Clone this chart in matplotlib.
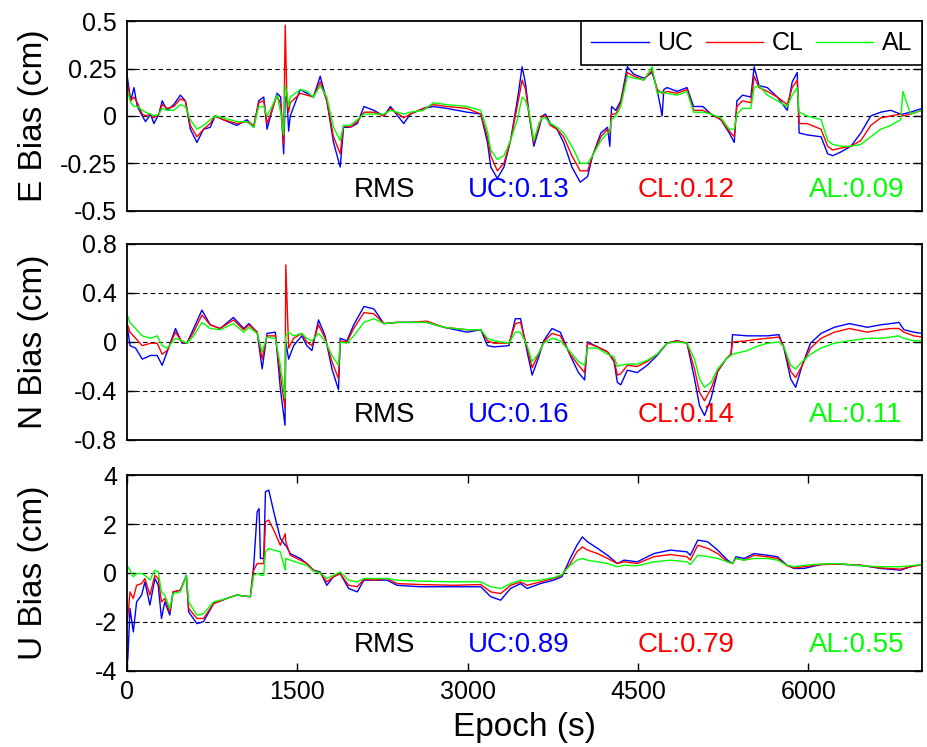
import matplotlib
matplotlib.use('Agg')
import matplotlib.pyplot as plt
from matplotlib.transforms import blended_transform_factory

plt.rcParams['font.family'] = ['Liberation Sans', 'DejaVu Sans']

# ---- E component ----
epoch_e = [0, 35, 64, 93, 137, 166, 210, 239, 283, 312, 356, 414, 472, 516, 560, 618, 676, 735, 778, 851,
           968, 1058, 1118, 1162, 1206, 1235, 1279, 1323, 1355, 1381, 1395, 1410, 1425, 1439, 1527, 1585,
           1643, 1703, 1761, 1820, 1879, 1908, 1967, 2029, 2088, 2175, 2263, 2321, 2438, 2496, 2612, 2700,
           2817, 2996, 3116, 3175, 3204, 3262, 3320, 3378, 3437, 3480, 3510, 3539, 3583, 3627, 3656, 3685,
           3729, 3787, 3845, 3918, 3991, 4056, 4100, 4173, 4231, 4252, 4267, 4304, 4348, 4406, 4464, 4551,
           4624, 4668, 4712, 4727, 4756, 4843, 4931, 4989, 5070, 5143, 5230, 5303, 5347, 5370, 5420, 5493,
           5522, 5565, 5638, 5726, 5813, 5857, 5901, 5918, 5988, 6111, 6169, 6213, 6286, 6373, 6461, 6548,
           6636, 6723, 6811, 6831, 6898, 7000]
e_uc = [0.23, 0.08, 0.15, 0.05, 0.00, -0.03, 0.01, -0.04, 0.01, 0.08, 0.03, 0.06, 0.11, 0.08, -0.07, -0.14,
        -0.07, -0.06, 0.00, -0.02, -0.05, -0.02, -0.06, 0.08, 0.10, -0.07, 0.03, 0.12, 0.10, -0.20, 0.10,
        0.10, -0.08, 0.00, 0.14, 0.12, 0.10, 0.21, 0.08, -0.14, -0.27, -0.06, -0.06, -0.04, 0.05, 0.03,
        0.00, 0.05, -0.04, 0.01, 0.04, 0.05, 0.04, 0.02, 0.01, -0.14, -0.27, -0.33, -0.27, -0.13, 0.08,
        0.26, 0.17, 0.02, -0.16, -0.07, 0.00, 0.01, -0.04, -0.07, -0.14, -0.27, -0.35, -0.32, -0.21, -0.09,
        -0.06, -0.16, 0.05, 0.03, 0.08, 0.26, 0.22, 0.20, 0.23, 0.14, 0.00, 0.14, 0.15, 0.13, 0.15, 0.05,
        0.05, 0.01, -0.02, -0.09, -0.14, 0.08, 0.11, 0.10, 0.26, 0.16, 0.15, 0.10, 0.03, 0.18, 0.23, -0.09,
        -0.10, -0.11, -0.20, -0.21, -0.19, -0.16, -0.09, 0.00, 0.02, 0.03, 0.01, 0.01, 0.02, 0.04]
e_cl = [0.19, 0.08, 0.10, 0.07, 0.01, 0.00, 0.01, -0.01, 0.01, 0.06, 0.04, 0.05, 0.09, 0.08, -0.05, -0.11,
        -0.07, -0.04, 0.00, -0.02, -0.04, -0.03, -0.05, 0.07, 0.08, -0.04, 0.03, 0.11, 0.06, -0.15, 0.48,
        0.08, 0.02, 0.07, 0.12, 0.11, 0.10, 0.18, 0.08, -0.11, -0.20, -0.05, -0.06, -0.03, 0.02, 0.02,
        0.00, 0.04, -0.01, 0.01, 0.04, 0.06, 0.05, 0.04, 0.01, -0.11, -0.21, -0.29, -0.25, -0.13, 0.05,
        0.19, 0.14, 0.01, -0.14, -0.06, 0.00, 0.00, -0.05, -0.07, -0.11, -0.21, -0.29, -0.29, -0.21, -0.11,
        -0.07, -0.09, 0.01, 0.01, 0.07, 0.23, 0.21, 0.19, 0.24, 0.14, 0.12, 0.12, 0.13, 0.12, 0.14, 0.03,
        0.03, 0.01, -0.02, -0.08, -0.11, 0.05, 0.08, 0.07, 0.21, 0.15, 0.13, 0.10, 0.06, 0.15, 0.19, -0.04,
        -0.04, -0.07, -0.16, -0.18, -0.17, -0.16, -0.13, -0.05, -0.01, 0.00, 0.01, 0.00, 0.01, 0.03]
e_al = [0.15, 0.07, 0.05, 0.05, 0.03, 0.02, 0.01, 0.00, 0.01, 0.04, 0.03, 0.03, 0.06, 0.05, -0.02, -0.07,
        -0.05, -0.02, 0.00, -0.01, -0.03, -0.03, -0.06, 0.05, 0.05, 0.00, 0.05, 0.11, 0.02, -0.10, 0.16,
        0.12, 0.05, 0.10, 0.14, 0.13, 0.10, 0.16, 0.10, -0.06, -0.13, -0.05, -0.05, -0.02, 0.01, 0.01,
        0.01, 0.03, 0.01, 0.02, 0.03, 0.07, 0.06, 0.05, 0.03, -0.08, -0.18, -0.23, -0.21, -0.13, -0.02,
        0.10, 0.08, 0.03, -0.13, -0.04, -0.01, -0.01, -0.04, -0.06, -0.09, -0.16, -0.25, -0.25, -0.21, -0.13,
        -0.09, -0.08, -0.02, 0.00, 0.05, 0.21, 0.20, 0.19, 0.26, 0.12, 0.13, 0.12, 0.12, 0.11, 0.13, 0.02,
        0.02, 0.01, -0.01, -0.07, -0.07, 0.01, 0.04, 0.04, 0.15, 0.16, 0.11, 0.08, 0.05, 0.11, 0.15, 0.02,
        0.00, -0.02, -0.13, -0.15, -0.16, -0.16, -0.15, -0.11, -0.07, -0.05, -0.02, 0.13, 0.01, 0.03]

# ---- N component ----
epoch_n = [0, 29, 78, 137, 210, 268, 312, 356, 429, 487, 530, 589, 662, 735, 822, 939, 1030, 1075, 1148,
           1192, 1235, 1308, 1352, 1393, 1400, 1425, 1469, 1541, 1585, 1630, 1688, 1746, 1806, 1864, 1879,
           1938, 1998, 2088, 2175, 2263, 2379, 2496, 2642, 2790, 2996, 3116, 3175, 3233, 3364, 3420, 3466,
           3524, 3568, 3620, 3670, 3743, 3816, 3903, 3976, 4030, 4056, 4144, 4231, 4289, 4318, 4348, 4406,
           4493, 4581, 4668, 4756, 4843, 4931, 4997, 5041, 5085, 5143, 5201, 5274, 5318, 5332, 5463, 5536,
           5638, 5740, 5784, 5843, 5887, 5945, 6018, 6111, 6228, 6359, 6519, 6636, 6723, 6796, 6840, 6927,
           7000]
n_uc = [0.16, -0.03, -0.05, -0.14, -0.11, -0.11, -0.19, -0.08, 0.11, -0.01, -0.01, 0.11, 0.26, 0.14, 0.11,
        0.20, 0.11, 0.15, 0.08, -0.22, 0.07, 0.08, -0.38, -0.68, 0.00, -0.14, -0.03, 0.05, -0.03, -0.07,
        0.18, 0.05, -0.22, -0.39, 0.03, 0.01, 0.14, 0.29, 0.27, 0.15, 0.16, 0.16, 0.16, 0.12, 0.08, 0.10,
        -0.03, -0.04, -0.03, 0.19, 0.19, -0.08, -0.27, -0.14, 0.01, 0.11, 0.08, -0.11, -0.25, -0.31, 0.00,
        -0.04, -0.08, -0.16, -0.33, -0.35, -0.23, -0.25, -0.19, -0.11, -0.01, 0.01, -0.01, -0.30, -0.52,
        -0.60, -0.46, -0.24, -0.14, -0.10, 0.06, 0.05, 0.05, 0.05, 0.06, -0.05, -0.30, -0.37, -0.19, -0.01,
        0.07, 0.12, 0.15, 0.12, 0.14, 0.15, 0.16, 0.10, 0.08, 0.07]
n_cl = [0.16, 0.08, 0.03, -0.03, -0.01, -0.01, -0.10, -0.07, 0.08, 0.00, -0.01, 0.08, 0.22, 0.14, 0.11,
        0.18, 0.10, 0.14, 0.08, -0.14, 0.05, 0.05, -0.27, -0.54, 0.63, -0.05, 0.03, 0.07, 0.00, -0.03,
        0.14, 0.03, -0.16, -0.30, 0.01, 0.00, 0.11, 0.24, 0.23, 0.15, 0.16, 0.16, 0.17, 0.12, 0.10, 0.10,
        0.01, -0.01, -0.01, 0.15, 0.16, -0.05, -0.21, -0.11, 0.00, 0.07, 0.05, -0.10, -0.19, -0.25, -0.01,
        -0.04, -0.08, -0.15, -0.27, -0.26, -0.19, -0.20, -0.16, -0.10, -0.01, 0.01, -0.01, -0.22, -0.41,
        -0.48, -0.38, -0.24, -0.14, -0.10, 0.00, 0.01, 0.02, 0.03, 0.04, -0.04, -0.24, -0.29, -0.19, -0.05,
        0.03, 0.08, 0.11, 0.08, 0.10, 0.11, 0.11, 0.08, 0.05, 0.04]
n_al = [0.23, 0.16, 0.11, 0.05, 0.03, 0.05, -0.03, -0.05, 0.03, 0.01, -0.01, 0.05, 0.16, 0.11, 0.10,
        0.15, 0.08, 0.12, 0.07, -0.08, 0.04, 0.03, -0.19, -0.46, 0.05, 0.08, 0.05, 0.07, 0.03, 0.01,
        0.07, 0.01, -0.11, -0.19, 0.00, -0.01, 0.05, 0.16, 0.19, 0.15, 0.16, 0.16, 0.16, 0.12, 0.10, 0.10,
        0.03, 0.01, -0.01, 0.08, 0.08, -0.03, -0.16, -0.10, -0.01, 0.03, 0.01, -0.08, -0.16, -0.19, -0.05,
        -0.05, -0.10, -0.12, -0.20, -0.19, -0.18, -0.18, -0.15, -0.10, -0.01, 0.00, -0.01, -0.14, -0.30,
        -0.37, -0.33, -0.22, -0.14, -0.11, -0.10, -0.07, -0.04, -0.01, 0.00, -0.04, -0.19, -0.22, -0.16, -0.10,
        -0.05, -0.01, 0.01, 0.03, 0.03, 0.04, 0.05, 0.03, 0.01, 0.01]

# ---- U component ----
epoch_u = [0, 10, 29, 58, 87, 131, 160, 204, 248, 277, 306, 335, 379, 408, 472, 525, 545, 618, 676, 764,
           880, 968, 1088, 1118, 1148, 1165, 1177, 1206, 1221, 1250, 1294, 1352, 1395, 1400, 1439, 1527,
           1585, 1643, 1703, 1761, 1820, 1879, 1953, 2029, 2088, 2175, 2292, 2379, 2584, 2879, 3116, 3204,
           3291, 3378, 3466, 3524, 3641, 3757, 3830, 3903, 3962, 4010, 4056, 4144, 4231, 4318, 4377, 4493,
           4639, 4785, 4931, 4960, 5026, 5114, 5201, 5288, 5332, 5361, 5434, 5522, 5638, 5726, 5813, 5872,
           5960, 6111, 6257, 6461, 6636, 6811, 6898, 7000]
u_uc = [-3.95, -3.50, -1.46, -2.42, -1.19, -0.91, -0.37, -1.32, -0.23, -0.51, -1.87, -1.19, -1.73, -0.78,
        -0.71, -0.10, -1.60, -2.08, -2.00, -1.26, -1.05, -0.91, -0.98, 0.31, 2.50, 2.63, 0.59, 0.59, 3.32,
        3.39, 2.50, 1.41, 1.13, 1.13, 0.79, 0.59, 0.38, 0.11, 0.04, -0.51, -0.16, -0.03, -0.64, -0.78,
        -0.30, -0.30, -0.30, -0.51, -0.57, -0.57, -0.57, -0.98, -1.12, -0.64, -0.44, -0.64, -0.44, -0.30,
        -0.16, 0.59, 1.13, 1.47, 1.27, 1.00, 0.72, 0.38, 0.52, 0.45, 0.79, 0.93, 0.86, 0.72, 1.34, 1.27,
        0.93, 0.52, 0.38, 0.66, 0.59, 0.79, 0.72, 0.66, 0.31, 0.18, 0.18, 0.34, 0.36, 0.31, 0.18, 0.11,
        0.25, 0.34]
u_cl = [-2.00, -1.80, -0.78, -1.05, -0.51, -0.44, -0.23, -0.91, -0.10, -0.23, -1.19, -1.05, -1.60, -0.78,
        -0.71, -0.16, -1.46, -1.87, -1.87, -1.26, -1.05, -0.91, -0.98, 0.11, 0.38, 0.38, 0.38, 0.38, 2.09,
        2.16, 1.75, 1.13, 1.60, 1.27, 0.72, 0.52, 0.38, 0.11, 0.00, -0.37, -0.16, -0.03, -0.51, -0.57,
        -0.26, -0.30, -0.23, -0.44, -0.48, -0.51, -0.48, -0.78, -0.85, -0.51, -0.37, -0.51, -0.37, -0.23,
        -0.10, 0.38, 0.86, 1.06, 0.93, 0.79, 0.59, 0.38, 0.45, 0.38, 0.66, 0.75, 0.66, 0.52, 1.13, 1.00,
        0.79, 0.45, 0.38, 0.59, 0.52, 0.72, 0.66, 0.59, 0.29, 0.20, 0.25, 0.34, 0.36, 0.31, 0.20, 0.15,
        0.25, 0.34]
u_al = [0.18, 0.25, 0.11, -0.16, -0.03, -0.03, -0.10, -0.30, 0.11, 0.04, -0.78, -0.91, -1.46, -0.85,
        -0.78, -0.10, -1.19, -1.73, -1.67, -1.19, -1.05, -0.91, -0.98, -0.10, -0.03, -0.03, -0.10, -0.10,
        0.86, 1.00, 0.93, 0.86, 0.11, 0.59, 0.52, 0.38, 0.31, 0.07, 0.00, -0.23, -0.10, 0.04, -0.30, -0.37,
        -0.23, -0.23, -0.23, -0.30, -0.34, -0.37, -0.37, -0.57, -0.64, -0.44, -0.30, -0.34, -0.30, -0.20,
        -0.07, 0.31, 0.52, 0.59, 0.52, 0.45, 0.38, 0.25, 0.31, 0.29, 0.45, 0.52, 0.45, 0.34, 0.72, 0.66,
        0.59, 0.45, 0.38, 0.59, 0.52, 0.59, 0.59, 0.52, 0.31, 0.25, 0.31, 0.36, 0.38, 0.29, 0.25, 0.25,
        0.29, 0.34]

series_names = ['UC', 'CL', 'AL']
series_colors = ['#0000ff', '#ff0000', '#00ff00']

y_labels = ['E Bias (cm)', 'N Bias (cm)', 'U Bias (cm)']
y_ticks = [[-0.5, -0.25, 0, 0.25, 0.5], [-0.8, -0.4, 0, 0.4, 0.8], [-4, -2, 0, 2, 4]]
y_ticklabels = [['-0.5', '-0.25', '0', '0.25', '0.5'],
                ['-0.8', '-0.4', '0', '0.4', '0.8'],
                ['-4', '-2', '0', '2', '4']]
rms_values = [['0.13', '0.12', '0.09'], ['0.16', '0.14', '0.11'], ['0.89', '0.79', '0.55']]
x_ticks = [0, 1500, 3000, 4500, 6000]

panels = [(epoch_e, [e_uc, e_cl, e_al]),
          (epoch_n, [n_uc, n_cl, n_al]),
          (epoch_u, [u_uc, u_cl, u_al])]

fig = plt.figure(figsize=(9.27, 7.47), dpi=100)
boxes = [[0.1367, 0.7181, 0.858, 0.2533],
         [0.1367, 0.4110, 0.858, 0.2624],
         [0.1367, 0.1024, 0.858, 0.2615]]
text_y = [0.11, 0.13, 0.13]

for i, (ep, vals) in enumerate(panels):
    ax = fig.add_axes(boxes[i])
    for v, c, name in zip(vals, series_colors, series_names):
        ax.plot(ep, v, color=c, lw=1.0, label=name)
    ax.set_xlim(0, 7000)
    ax.set_ylim(y_ticks[i][0], y_ticks[i][-1])
    ax.set_yticks(y_ticks[i])
    ax.set_yticklabels(y_ticklabels[i])
    for yv in y_ticks[i][1:-1]:
        ax.axhline(yv, color='k', lw=0.8, linestyle=(0, (4, 3)), zorder=0)
    if i == 2:
        ax.set_xticks(x_ticks)
        ax.set_xticklabels([str(t) for t in x_ticks])
        ax.set_xlabel('Epoch (s)', fontsize=24)
        ax.xaxis.set_label_coords(0.5, -0.21)
    else:
        ax.set_xticks([])
    ax.tick_params(direction='in', length=6, width=1, labelsize=18, pad=7,
                   top=True, right=True)
    for s in ax.spines.values():
        s.set_linewidth(1.3)
    ax.set_ylabel(y_labels[i], fontsize=24)
    ax.yaxis.set_label_coords(-0.098, 0.5)

    tr = blended_transform_factory(ax.transData, ax.transAxes)
    ax.text(2000, text_y[i], 'RMS', color='k', fontsize=20, va='center', transform=tr)
    for x0, name, c, r in zip([3000, 4500, 6000], series_names, series_colors, rms_values[i]):
        ax.text(x0, text_y[i], f'{name}:{r}', color=c, fontsize=20, va='center', transform=tr)

    if i == 0:
        leg = ax.legend(loc='upper right', bbox_to_anchor=(1, 1), borderaxespad=0, ncol=3,
                        fontsize=18, handlelength=2.3, handletextpad=0.33, columnspacing=0.5,
                        borderpad=0.4, fancybox=False, framealpha=1, edgecolor='k')
        leg.get_frame().set_linewidth(1.2)

fig.savefig('out.png', dpi=100)
